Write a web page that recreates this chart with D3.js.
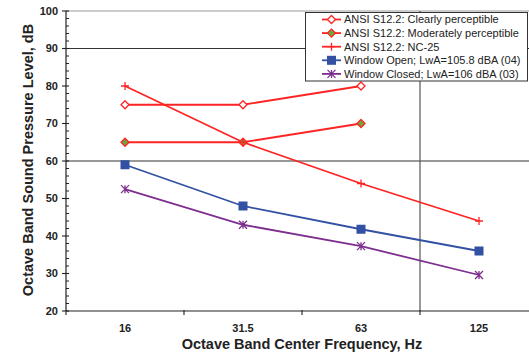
<!DOCTYPE html>
<html>
<head>
<meta charset="utf-8">
<script src="https://cdn.jsdelivr.net/npm/d3@7/dist/d3.min.js"></script>
<style>
  html, body { margin: 0; padding: 0; background: #fff; }
  svg { display: block; font-family: "Liberation Sans", Arial, sans-serif; }
</style>
</head>
<body>
<svg id="chart" width="529" height="354"></svg>
<script>
// Octave band centre frequencies (Hz)
const bands = ["16", "31.5", "63", "125"];

// Sound pressure levels, dB
const clearlyPerceptible = [75, 75, 80, null];
const moderatelyPerceptible = [65, 65, 70, null];
const nc25 = [80, 65, 54, 44];
const windowOpen = [59, 48, 41.8, 36];
const windowClosed = [52.5, 43, 37.3, 29.6];

const yTicks = [20, 30, 40, 50, 60, 70, 80, 90, 100];
const yGrid = [60, 90];

const series = [
  { name: "ANSI S12.2: Clearly perceptible", values: clearlyPerceptible, color: "#ff2424", marker: "diamond", fill: "#ffffff" },
  { name: "ANSI S12.2: Moderately perceptible", values: moderatelyPerceptible, color: "#ff2424", marker: "diamond", fill: "#6aaa3a" },
  { name: "ANSI S12.2: NC-25", values: nc25, color: "#ff2424", marker: "plus" },
  { name: "Window Open; LwA=105.8 dBA (04)", values: windowOpen, color: "#3351a3", marker: "square" },
  { name: "Window Closed; LwA=106 dBA (03)", values: windowClosed, color: "#7d2e8e", marker: "asterisk" }
];

const svg = d3.select("#chart");
const plotLeft = 66, plotTop = 11, plotBottom = 311;
const bandWidth = 118;

const x = d3.scaleBand().domain(bands).range([plotLeft, plotLeft + bandWidth * bands.length]).padding(0);
const y = d3.scaleLinear().domain([20, 100]).range([plotBottom, plotTop]);

// top border of plot area
svg.append("line").attr("x1", plotLeft).attr("x2", 529).attr("y1", y(100)).attr("y2", y(100))
  .attr("stroke", "#9a9a9a").attr("stroke-width", 1.2);

// horizontal gridlines
svg.append("g").selectAll("line").data(yGrid).join("line")
  .attr("x1", plotLeft).attr("x2", 529)
  .attr("y1", d => y(d)).attr("y2", d => y(d))
  .attr("stroke", "#333").attr("stroke-width", 1.2);

// vertical gridline between 63 and 125
svg.append("line")
  .attr("x1", x("125")).attr("x2", x("125"))
  .attr("y1", y(100)).attr("y2", y(20))
  .attr("stroke", "#555").attr("stroke-width", 1.2);

// y axis with minor ticks
const yAxis = svg.append("g");
yAxis.append("line").attr("x1", plotLeft).attr("x2", plotLeft).attr("y1", y(100)).attr("y2", y(20))
  .attr("stroke", "#222").attr("stroke-width", 1.2);
const minor = d3.range(20, 100.01, 2).filter(v => v % 10 !== 0);
yAxis.selectAll("line.minor").data(minor).join("line").attr("class", "minor")
  .attr("x1", plotLeft).attr("x2", plotLeft + 3)
  .attr("y1", d => y(d)).attr("y2", d => y(d))
  .attr("stroke", "#222");
yAxis.selectAll("line.major").data(yTicks).join("line").attr("class", "major")
  .attr("x1", plotLeft - 4).attr("x2", plotLeft + 3)
  .attr("y1", d => y(d)).attr("y2", d => y(d))
  .attr("stroke", "#222").attr("stroke-width", 1.1);
yAxis.selectAll("text").data(yTicks).join("text")
  .attr("x", plotLeft - 8).attr("y", d => y(d)).attr("dy", "0.35em")
  .attr("text-anchor", "end").attr("font-size", 11).attr("font-weight", "bold").attr("fill", "#222")
  .text(d => d);

// x axis
const xAxis = svg.append("g");
xAxis.append("line").attr("x1", plotLeft).attr("x2", 529).attr("y1", y(20)).attr("y2", y(20))
  .attr("stroke", "#222").attr("stroke-width", 1.2);
xAxis.selectAll("line.tick").data(bands).join("line").attr("class", "tick")
  .attr("x1", d => x(d)).attr("x2", d => x(d))
  .attr("y1", y(20) - 1).attr("y2", y(20) + 4)
  .attr("stroke", "#222").attr("stroke-width", 1.1);
xAxis.selectAll("text").data(bands).join("text")
  .attr("x", d => x(d) + x.bandwidth() / 2).attr("y", 332)
  .attr("text-anchor", "middle").attr("font-size", 11).attr("font-weight", "bold").attr("fill", "#222")
  .text(d => d);

// axis titles
svg.append("text").attr("x", 302).attr("y", 349).attr("text-anchor", "middle")
  .attr("font-size", 14.5).attr("font-weight", "bold").attr("fill", "#222")
  .text("Octave Band Center Frequency, Hz");
svg.append("text").attr("transform", "translate(33,160) rotate(-90)").attr("text-anchor", "middle")
  .attr("font-size", 14.5).attr("font-weight", "bold").attr("fill", "#222")
  .text("Octave Band Sound Pressure Level, dB");

// marker drawing
function drawMarker(g, s, cx, cy) {
  const r = 4;
  if (s.marker === "diamond") {
    g.append("path").attr("d", `M${cx},${cy - r}L${cx + r},${cy}L${cx},${cy + r}L${cx - r},${cy}Z`)
      .attr("fill", s.fill).attr("stroke", s.color).attr("stroke-width", 1.3);
  } else if (s.marker === "square") {
    g.append("rect").attr("x", cx - 4.5).attr("y", cy - 4.5).attr("width", 9).attr("height", 9)
      .attr("fill", s.color);
  } else if (s.marker === "plus") {
    g.append("path").attr("d", `M${cx - r},${cy}H${cx + r}M${cx},${cy - r}V${cy + r}`)
      .attr("stroke", s.color).attr("stroke-width", 1.3);
  } else if (s.marker === "asterisk") {
    g.append("path").attr("d",
      `M${cx - r},${cy - r}L${cx + r},${cy + r}M${cx - r},${cy + r}L${cx + r},${cy - r}M${cx},${cy - r}V${cy + r}`)
      .attr("stroke", s.color).attr("stroke-width", 1.3);
  }
}

const line = d3.line()
  .defined(d => d.v !== null)
  .x(d => x(d.band) + x.bandwidth() / 2)
  .y(d => y(d.v));

const plot = svg.append("g");
series.forEach(s => {
  const pts = bands.map((b, i) => ({ band: b, v: s.values[i] }));
  plot.append("path").datum(pts).attr("d", line)
    .attr("fill", "none").attr("stroke", s.color).attr("stroke-width", 1.8);
});
series.forEach(s => {
  const g = plot.append("g");
  bands.forEach((b, i) => {
    if (s.values[i] !== null) drawMarker(g, s, x(b) + x.bandwidth() / 2, y(s.values[i]));
  });
});

// legend
const legend = svg.append("g");
legend.append("rect").attr("x", 305.5).attr("y", 12.5).attr("width", 222).attr("height", 68.5)
  .attr("fill", "#fff").attr("stroke", "#333").attr("stroke-width", 1);
series.forEach((s, i) => {
  const ly = 19.5 + i * 13.6;
  const g = legend.append("g");
  g.append("line").attr("x1", 322).attr("x2", 341).attr("y1", ly).attr("y2", ly)
    .attr("stroke", s.color).attr("stroke-width", 1.8);
  drawMarker(g, s, 331.5, ly);
  g.append("text").attr("x", 344).attr("y", ly).attr("dy", "0.36em")
    .attr("font-size", 11).attr("fill", "#222").text(s.name);
});
</script>
</body>
</html>
